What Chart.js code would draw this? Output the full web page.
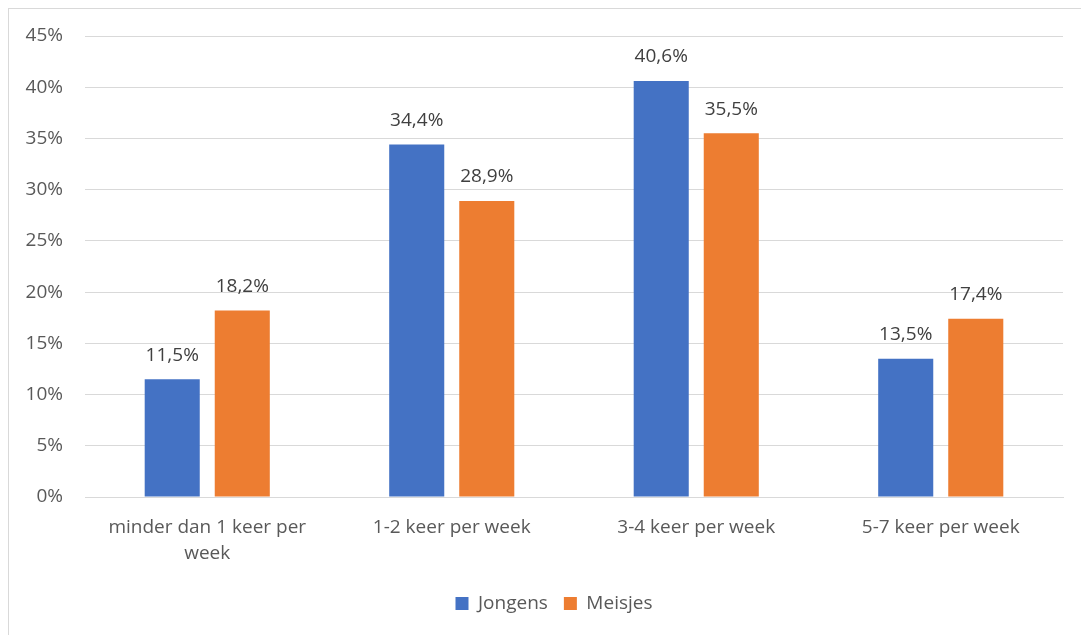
<!DOCTYPE html>
<html>
<head>
<meta charset="utf-8">
<script src="https://cdn.jsdelivr.net/npm/chart.js@4"></script>
<style>
  html, body { margin: 0; padding: 0; background: #fff; overflow: hidden; }
  #box {
    position: absolute; left: 8px; top: 8px;
    width: 1100px; height: 640px;
    border: 1px solid #d9d9d9; box-sizing: border-box;
  }
  #wrap { position: absolute; left: 0; top: 0; width: 1090px; height: 626px; }
</style>
</head>
<body>
<div id="box"><div id="wrap"><canvas id="chart"></canvas></div></div>
<script>
// ====== DATA ======
const categories = [['minder dan 1 keer per', 'week'], '1-2 keer per week', '3-4 keer per week', '5-7 keer per week'];
const jongens = [11.5, 34.4, 40.6, 13.5];
const meisjes = [18.2, 28.9, 35.5, 17.4];
const yTicks  = [0, 5, 10, 15, 20, 25, 30, 35, 40, 45];

const FONT = '"Open Sans", Lato, "Liberation Sans", sans-serif';
const TEXT = '#595959';
const SIZE = 19;

// value labels above the bars, Dutch comma decimal
const valueLabels = {
  id: 'valueLabels',
  afterDatasetsDraw(chart) {
    const ctx = chart.ctx;
    ctx.save();
    ctx.font = SIZE + 'px ' + FONT;
    ctx.fillStyle = '#404040';
    ctx.textAlign = 'center';
    ctx.textBaseline = 'middle';
    chart.data.datasets.forEach((ds, i) => {
      chart.getDatasetMeta(i).data.forEach((bar, j) => {
        const txt = ds.data[j].toFixed(1).replace('.', ',') + '%';
        ctx.fillText(txt, bar.x, bar.y - 24);
      });
    });
    ctx.restore();
  }
};

// nudge the legend a bit to the right, like the original
const legendShift = {
  id: 'legendShift',
  afterLayout(chart) {
    if (chart.legend) { chart.legend.left += 18; chart.legend.right += 18; }
  }
};

new Chart(document.getElementById('chart'), {
  type: 'bar',
  data: {
    labels: categories,
    datasets: [
      { label: 'Jongens', data: jongens, backgroundColor: '#4472c4' },
      { label: 'Meisjes', data: meisjes, backgroundColor: '#ed7d31' }
    ]
  },
  options: {
    responsive: true,
    maintainAspectRatio: false,
    animation: false,
    datasets: { bar: { categoryPercentage: 0.573, barPercentage: 0.786 } },
    layout: { padding: { top: 0, right: 36, left: 0, bottom: 12 } },
    plugins: {
      legend: {
        position: 'bottom',
        labels: {
          font: { family: FONT, size: SIZE }, color: TEXT,
          boxWidth: 13, boxHeight: 13, padding: 16
        }
      },
      tooltip: { enabled: false }
    },
    scales: {
      x: {
        grid: { display: false, drawTicks: false },
        border: { color: '#d9d9d9', width: 1 },
        ticks: { font: { family: FONT, size: SIZE, lineHeight: 1.37 }, color: TEXT, padding: 18, maxRotation: 0 },
        afterFit(s) { s.height = 81; }
      },
      y: {
        min: 0, max: 45,
        afterBuildTicks(s) { s.ticks = yTicks.map(v => ({ value: v })); },
        grid: { color: '#d9d9d9', drawTicks: false },
        border: { display: false },
        ticks: {
          font: { family: FONT, size: SIZE }, color: TEXT, padding: 22,
          callback: v => v + '%'
        },
        afterFit(s) { s.width = 76; s.paddingTop = 27; s.paddingBottom = 10; }
      }
    }
  },
  plugins: [valueLabels, legendShift]
});
</script>
</body>
</html>
